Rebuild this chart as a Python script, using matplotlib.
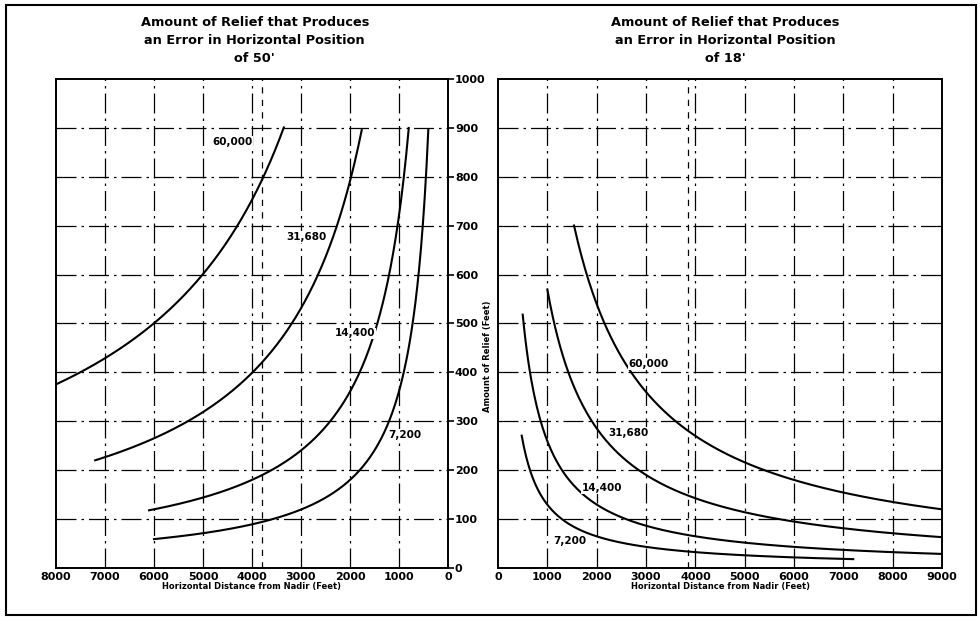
import numpy as np
import matplotlib
matplotlib.use("Agg")
import matplotlib.pyplot as plt
from matplotlib.patches import Rectangle

plt.rcParams["font.family"] = ["DejaVu Sans"]

# --- left chart: error of 50 ft (distance in feet, relief in feet) ---
l_60000_x = [8000, 7000, 6000, 5000, 4400, 4000, 3800, 3550, 3350]
l_60000_y = [375, 430, 500, 600, 685, 750, 795, 850, 900]
l_31680_x = [7200, 6000, 5400, 4000, 3200, 2600, 2250, 2000, 1760]
l_31680_y = [220, 265, 295, 400, 500, 610, 700, 790, 900]
l_14400_x = [6100, 5000, 4000, 3000, 2500, 2000, 1800, 1440, 1200, 1030, 900, 800]
l_14400_y = [118, 144, 180, 240, 290, 360, 400, 500, 600, 700, 800, 900]
l_7200_x = [6000, 5000, 4000, 3000, 2000, 1800, 1500, 1200, 1000, 900, 720, 600, 515, 450, 400]
l_7200_y = [58, 72, 90, 120, 180, 200, 240, 300, 360, 400, 500, 600, 700, 800, 900]

# --- right chart: error of 18 ft ---
r_60000_x = [1540, 2000, 2700, 3000, 3700, 4000, 5000, 6000, 7000, 8000, 9000]
r_60000_y = [700, 540, 400, 360, 292, 270, 216, 180, 154, 135, 120]
r_31680_x = [1000, 1250, 1500, 2000, 3000, 4000, 5000, 6000, 7000, 8000, 9000]
r_31680_y = [570, 456, 380, 285, 190, 143, 114, 95, 81, 71, 63]
r_14400_x = [500, 600, 800, 1000, 1500, 2000, 3000, 4000, 5000, 6000, 7000, 8000, 9000]
r_14400_y = [518, 432, 324, 259, 173, 130, 86, 65, 52, 43, 37, 32, 29]
r_7200_x = [480, 600, 800, 1000, 1500, 2000, 3000, 4000, 5000, 6000, 7000, 7200]
r_7200_y = [270, 216, 162, 130, 86, 65, 43, 32, 26, 22, 18.5, 18]

y_ticks = list(range(0, 1001, 100))
left_xticks = list(range(0, 8001, 1000))
right_xticks = list(range(0, 9001, 1000))

GRID = (0, (16, 4, 2, 4))


def smooth(xs, ys):
    # smooth line through the read points (quadratic in log-log space)
    lx = np.log(np.asarray(xs, float))
    ly = np.log(np.asarray(ys, float))
    c = np.polyfit(lx, ly, 2)
    xx = np.linspace(min(xs), max(xs), 300)
    return xx, np.exp(np.polyval(c, np.log(xx)))


def setup(ax, xmax, xticks, extra):
    ax.set_xlim(0, xmax)
    ax.set_ylim(0, 1000)
    for v in xticks[1:-1]:
        ax.axvline(v, color="black", lw=0.9, ls=GRID)
    for v in y_ticks[1:-1]:
        ax.axhline(v, color="black", lw=0.9, ls=GRID)
    ax.axvline(extra, color="black", lw=0.9, ls=(0, (5, 5)))
    ax.set_xticks(xticks)
    ax.set_xticklabels([str(t) for t in xticks], fontsize=8, fontweight="bold")
    ax.tick_params(axis="x", length=0, pad=3)
    for s in ax.spines.values():
        s.set_linewidth(1.4)


fig = plt.figure(figsize=(9.8, 6.2), dpi=100)
ax1 = fig.add_axes([0.0571, 0.0839, 0.4, 0.7887])
ax2 = fig.add_axes([0.5082, 0.0839, 0.4531, 0.7887])

setup(ax1, 8000, left_xticks, 3800)
ax1.invert_xaxis()
ax1.yaxis.tick_right()
ax1.set_yticks(y_ticks)
ax1.set_yticklabels([str(t) for t in y_ticks], fontsize=8, fontweight="bold")
ax1.tick_params(axis="y", length=4, width=1.2, direction="out", pad=1)

setup(ax2, 9000, right_xticks, 3850)
ax2.set_yticks([])

for xs, ys in [(l_60000_x, l_60000_y), (l_31680_x, l_31680_y),
               (l_14400_x, l_14400_y), (l_7200_x, l_7200_y)]:
    ax1.plot(*smooth(xs, ys), color="black", lw=1.5)
for xs, ys in [(r_60000_x, r_60000_y), (r_31680_x, r_31680_y),
               (r_14400_x, r_14400_y), (r_7200_x, r_7200_y)]:
    ax2.plot(*smooth(xs, ys), color="black", lw=1.5)

lab = dict(fontsize=7.5, fontweight="bold", ha="center", va="center",
           bbox=dict(facecolor="white", edgecolor="none", pad=0.5))
ax1.text(4400, 871, "60,000", **lab)
ax1.text(2880, 677, "31,680", **lab)
ax1.text(1900, 480, "14,400", **lab)
ax1.text(880, 272, "7,200", **lab)
ax2.text(3050, 417, "60,000", **lab)
ax2.text(2640, 276, "31,680", **lab)
ax2.text(2100, 164, "14,400", **lab)
ax2.text(1460, 55, "7,200", **lab)

ax1.set_xlabel("Horizontal Distance from Nadir (Feet)", fontsize=6, fontweight="bold", labelpad=0)
ax2.set_xlabel("Horizontal Distance from Nadir (Feet)", fontsize=6, fontweight="bold", labelpad=0)

title = "Amount of Relief that Produces\nan Error in Horizontal Position\nof {}"
fig.text(0.26, 0.975, title.format("50'"), ha="center", va="top",
         fontsize=9.3, fontweight="bold", linespacing=1.55)
fig.text(0.74, 0.975, title.format("18'"), ha="center", va="top",
         fontsize=9.3, fontweight="bold", linespacing=1.55)
fig.text(0.497, 0.425, "Amount of Relief (Feet)", rotation=90, ha="center", va="center",
         fontsize=6, fontweight="bold")

fig.add_artist(Rectangle((0.006, 0.008), 0.99, 0.984, transform=fig.transFigure,
                         fill=False, edgecolor="black", lw=1.5))

fig.savefig("out.png", dpi=100)
